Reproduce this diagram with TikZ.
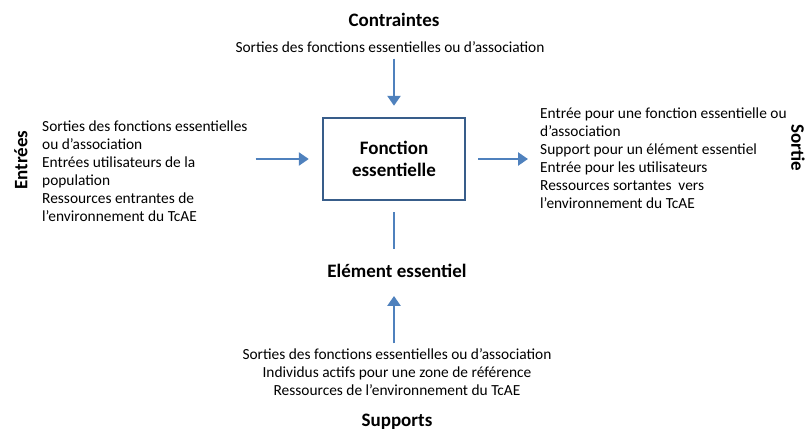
\documentclass[tikz,border=0pt]{standalone}
\usepackage{fontspec}
\setmainfont{Carlito}
\usetikzlibrary{arrows.meta}

\begin{document}
\begin{tikzpicture}[x=1pt,y=-1pt,
    texte/.style={font=\fontsize{15.4}{17.9}\selectfont, inner sep=0pt},
    titre/.style={font=\fontsize{19}{21.5}\selectfont\bfseries, inner sep=0pt},
    fleche/.style={-{Triangle[length=10pt,width=13pt]}, line width=2.6pt, flechecolor}]
    % Couleurs
    \definecolor{flechecolor}{HTML}{4F81BD}
    \definecolor{boitecolor}{HTML}{385D8A}

    % Cadre
    \useasboundingbox (0,0) rectangle (809,432);

    % Fonction essentielle
    \node[titre, align=center, draw=boitecolor, line width=2.4pt, minimum width=142pt, minimum height=82pt] (fonction) at (394,159) {Fonction\\essentielle};

    % Contraintes
    \node[titre] (contraintes) at (394,20) {Contraintes};
    \node[texte] (contrtexte) at (390,47) {Sorties des fonctions essentielles ou d’association};
    \draw[fleche, shorten <=6pt, shorten >=11pt] (contrtexte.south -| fonction) -- (fonction);

    % Entrées
    \node[titre, rotate=90] (entrees) at (21,160) {Entrées};
    \node[texte, align=left, anchor=west] (entrtexte) at (42,171) {Sorties des fonctions essentielles\\ou d’association\\Entrées utilisateurs de la\\population\\Ressources entrantes de\\l’environnement du TcAE};
    \draw[fleche, shorten <=8pt, shorten >=13pt] (entrtexte.east |- fonction) -- (fonction.west);

    % Sortie
    \node[titre, rotate=-90] (sortie) at (798,148) {Sortie};
    \node[texte, align=left, anchor=west] (sortexte) at (540,158) {Entrée pour une fonction essentielle ou\\d’association\\Support pour un élément essentiel\\Entrée pour les utilisateurs\\Ressources sortantes~ vers\\l’environnement du TcAE};
    \draw[fleche, shorten <=12pt, shorten >=12pt] (fonction.east) -- (sortexte.west |- fonction.east);

    % Elément essentiel
    \node[titre] (element) at (397,271) {Elément essentiel};
    \draw[line width=2.6pt, flechecolor, shorten <=11pt, shorten >=15pt] (fonction.south) -- (fonction.south |- element.north);

    % Supports
    \node[texte, align=center] (supptexte) at (397,372) {Sorties des fonctions essentielles ou d’association\\Individus actifs pour une zone de référence\\Ressources de l’environnement du TcAE};
    \node[titre] (supports) at (397,422) {Supports};
    \draw[fleche, shorten <=5pt, shorten >=18pt] (supptexte.north -| fonction) -- (element.south -| fonction);

\end{tikzpicture}
\end{document}
